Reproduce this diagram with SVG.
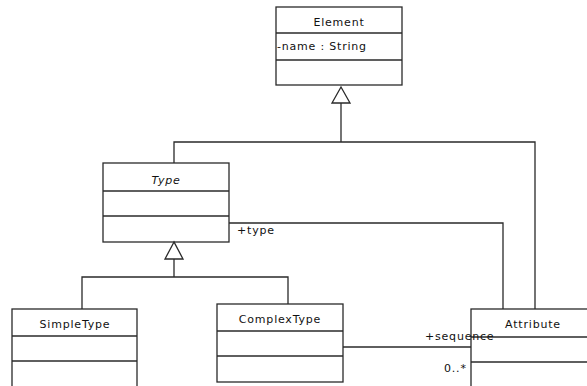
<svg xmlns="http://www.w3.org/2000/svg" width="587" height="386" viewBox="0 0 587 386">
<style>
.box{fill:#fff;stroke:#2a2a2a;stroke-width:1.3}
.ln{fill:none;stroke:#2a2a2a;stroke-width:1.3}
.tri{fill:#fff;stroke:#2a2a2a;stroke-width:1.3}
text{font-family:"DejaVu Sans","Liberation Sans",sans-serif;font-size:11px;fill:#111;letter-spacing:0.8px}
.c{text-anchor:middle}
.i{font-style:italic}
</style>
<rect width="587" height="386" fill="#fff"/>
<g id="Element">
<rect class="box" x="276" y="7" width="126" height="78"/>
<line class="ln" x1="276" y1="33" x2="402" y2="33"/>
<line class="ln" x1="276" y1="60" x2="402" y2="60"/>
<text class="c" x="339" y="26">Element</text>
<text x="277" y="50">-name : String</text>
</g>
<g id="Type">
<rect class="box" x="103" y="163" width="126" height="79"/>
<line class="ln" x1="103" y1="191" x2="229" y2="191"/>
<line class="ln" x1="103" y1="216" x2="229" y2="216"/>
<text class="c i" x="166" y="184">Type</text>
</g>
<g id="SimpleType">
<rect class="box" x="12" y="309" width="125" height="90"/>
<line class="ln" x1="12" y1="336" x2="137" y2="336"/>
<line class="ln" x1="12" y1="361" x2="137" y2="361"/>
<text class="c" x="75" y="328">SimpleType</text>
</g>
<g id="ComplexType">
<rect class="box" x="217" y="304" width="126" height="78"/>
<line class="ln" x1="217" y1="331" x2="343" y2="331"/>
<line class="ln" x1="217" y1="356" x2="343" y2="356"/>
<text class="c" x="280" y="323">ComplexType</text>
</g>
<g id="Attribute">
<rect class="box" x="471" y="309" width="126" height="90"/>
<line class="ln" x1="471" y1="337" x2="597" y2="337"/>
<line class="ln" x1="471" y1="362" x2="597" y2="362"/>
<text class="c" x="533" y="328">Attribute</text>
</g>
<g id="connectors">
<polyline class="ln" points="341,103 341,142"/>
<polyline class="ln" points="174,163 174,142 535,142 535,309"/>
<polyline class="ln" points="229,223 503,223 503,309"/>
<polyline class="ln" points="174,259 174,277"/>
<polyline class="ln" points="82,309 82,277 288,277 288,304"/>
<polyline class="ln" points="343,347 471,347"/>
<polygon class="tri" points="341,87 332,103 350,103"/>
<polygon class="tri" points="174,242 165,259 183,259"/>
<text x="237" y="234">+type</text>
<text x="425" y="340">+sequence</text>
<text x="444" y="372">0..*</text>
</g>
</svg>
